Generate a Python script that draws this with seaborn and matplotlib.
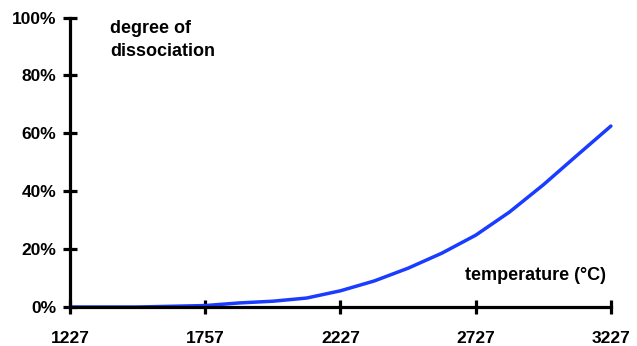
import matplotlib
matplotlib.use("Agg")
import matplotlib.pyplot as plt
import seaborn as sns
import pandas as pd

# Dissociation curve samples (temperature in °C, degree of dissociation in %)
temperature = [1227, 1477, 1727, 1852, 1977, 2102, 2227, 2352, 2477, 2602,
               2727, 2852, 2977, 3102, 3227]
dissociation = [0.0, 0.0, 0.5, 1.4, 2.0, 3.1, 5.6, 9.0, 13.4, 18.6,
                24.8, 32.8, 42.2, 52.4, 62.5]

x_tick_pos = [1227, 1727, 2227, 2727, 3227]
x_tick_labels = ["1227", "1757", "2227", "2727", "3227"]
y_ticks = [0, 20, 40, 60, 80, 100]
y_tick_labels = ["0%", "20%", "40%", "60%", "80%", "100%"]

sns.set_style("white")
plt.rcParams["font.family"] = ["Liberation Sans", "DejaVu Sans"]
plt.rcParams["font.weight"] = "bold"
plt.rcParams["text.color"] = "black"

df = pd.DataFrame({"temperature": temperature, "dissociation": dissociation})

fig = plt.figure(figsize=(6.37, 3.46), dpi=100)
ax = fig.add_axes([0.110, 0.1127, 0.849, 0.8367])

sns.lineplot(data=df, x="temperature", y="dissociation", ax=ax,
             color="#1a3cff", linewidth=2.5, solid_capstyle="round")

ax.set_xlim(1227, 3227)
ax.set_ylim(0, 100)
ax.set_xticks(x_tick_pos)
ax.set_xticklabels(x_tick_labels)
ax.set_yticks(y_ticks)
ax.set_yticklabels(y_tick_labels)
ax.set_xlabel("")
ax.set_ylabel("")

for side in ("top", "right"):
    ax.spines[side].set_visible(False)
for side in ("left", "bottom"):
    ax.spines[side].set_color("black")
    ax.spines[side].set_linewidth(2.3)

ax.tick_params(axis="both", direction="inout", length=10, width=2.3,
               color="black", labelsize=12.5, labelcolor="black",
               bottom=True, left=True)
ax.tick_params(axis="x", pad=12)
ax.tick_params(axis="y", pad=5)
for lab in ax.get_xticklabels() + ax.get_yticklabels():
    lab.set_fontweight("bold")

ax.text(0.074, 0.99, "degree of\ndissociation", transform=ax.transAxes,
        ha="left", va="top", fontsize=13, fontweight="bold",
        color="black", linespacing=1.4)
ax.text(0.991, 0.11, "temperature (°C)", transform=ax.transAxes,
        ha="right", va="center", fontsize=13, fontweight="bold",
        color="black")

for line in ax.lines:
    line.set_clip_on(False)

fig.savefig("out.png", dpi=100)
